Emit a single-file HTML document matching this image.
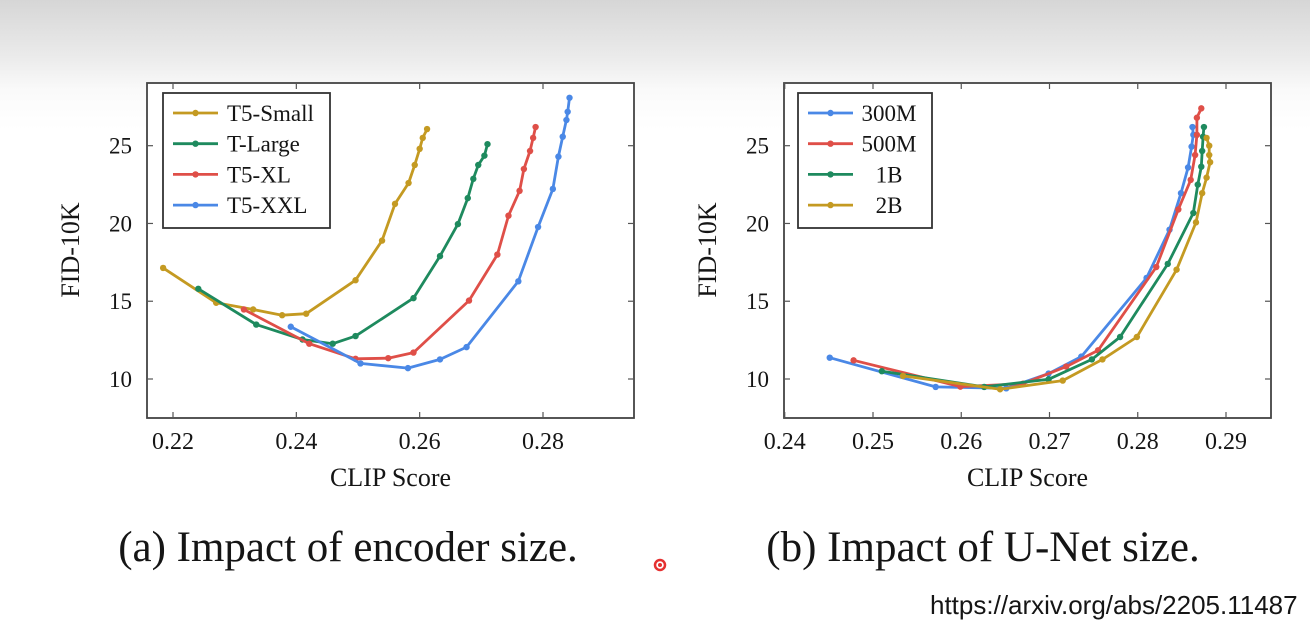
<!DOCTYPE html>
<html><head><meta charset="utf-8">
<style>
html,body{margin:0;padding:0;}
body{width:1310px;height:630px;overflow:hidden;background:linear-gradient(#d6d6d6 0px,#ececec 60px,#fafafa 90px,#ffffff 130px,#ffffff 630px);position:relative;font-family:"Liberation Serif",serif;}
svg{position:absolute;left:0;top:0;}
</style></head>
<body>
<svg id="svg" width="1310" height="630"></svg>
<script>
// ---- Chart (a) data ----
const aSeriesNames = ["T5-Small","T-Large","T5-XL","T5-XXL"];
const aSmallX = [0.2184,0.2270,0.2330,0.2377,0.2416,0.2496,0.2539,0.2560,0.2582,0.2592,0.2600,0.2605,0.2612];
const aSmallY = [17.14,14.9,14.47,14.1,14.2,16.35,18.9,21.26,22.6,23.76,24.8,25.5,26.07];
const aLargeX = [0.2241,0.2335,0.2410,0.2459,0.2496,0.2590,0.2633,0.2662,0.2678,0.2687,0.2695,0.2705,0.2710];
const aLargeY = [15.8,13.5,12.54,12.27,12.76,15.2,17.9,19.96,21.63,22.87,23.76,24.36,25.1];
const aXLX = [0.2315,0.2421,0.2496,0.2549,0.2590,0.2680,0.2726,0.2744,0.2762,0.2769,0.2779,0.2784,0.2788];
const aXLY = [14.47,12.27,11.3,11.34,11.7,15.04,18.0,20.5,22.1,23.5,24.66,25.5,26.2];
const aXXLX = [0.2391,0.2504,0.2581,0.2633,0.2676,0.2760,0.2792,0.2816,0.2825,0.2832,0.2838,0.2840,0.2843];
const aXXLY = [13.36,11.0,10.7,11.26,12.05,16.28,19.77,22.22,24.3,25.58,26.65,27.18,28.08];
const aXTicks = [0.22,0.24,0.26,0.28];
const aXTickLabels = ["0.22","0.24","0.26","0.28"];
const yTicks = [10,15,20,25];
const yTickLabels = ["10","15","20","25"];
// ---- Chart (b) data ----
const bSeriesNames = ["300M","500M","1B","2B"];
const b300X = [0.2451,0.2571,0.2651,0.2699,0.2736,0.2810,0.2836,0.2849,0.2857,0.2861,0.2863,0.2862];
const b300Y = [11.37,9.49,9.4,10.35,11.44,16.5,19.6,21.95,23.6,24.94,25.7,26.2];
const b500X = [0.2478,0.2599,0.2670,0.2719,0.2755,0.2821,0.2846,0.2860,0.2865,0.2867,0.2867,0.2872];
const b500Y = [11.2,9.51,9.7,10.8,11.84,17.2,20.9,22.8,24.4,25.7,26.8,27.4];
const b1BX = [0.2510,0.2626,0.2699,0.2748,0.2780,0.2834,0.2863,0.2868,0.2872,0.2873,0.2874,0.2875];
const b1BY = [10.5,9.49,9.98,11.26,12.7,17.4,20.67,22.5,23.65,24.66,25.58,26.2];
const b2BX = [0.2534,0.2644,0.2715,0.2760,0.2799,0.2844,0.2866,0.2873,0.2878,0.2882,0.2881,0.2881,0.2878];
const b2BY = [10.2,9.34,9.9,11.26,12.7,17.03,20.07,21.95,22.95,23.94,24.4,25.0,25.5];
const bXTicks = [0.24,0.25,0.26,0.27,0.28,0.29];
const bXTickLabels = ["0.24","0.25","0.26","0.27","0.28","0.29"];

const GOLD="#c49a22", GREEN="#1e8a5e", RED="#df4f48", BLUE="#4a88e6";
const INK="#151515";
const NS="http://www.w3.org/2000/svg";
const svg=document.getElementById('svg');
function mk(tag,attrs,parent){const e=document.createElementNS(NS,tag);for(const k in attrs)e.setAttribute(k,attrs[k]);(parent||svg).appendChild(e);return e;}

function chart(cfg){
  const g=mk('g',{});
  
  
  const L=cfg.left,R=cfg.right,T=83,B=418;
  const sx=v=>cfg.x0px+(v-cfg.x0)/(cfg.x1-cfg.x0)*(cfg.x1px-cfg.x0px);
  const sy=v=>379-(v-10)/15*(379-145.7);
  const fr=mk('rect',{x:L,y:T,width:R-L,height:B-T,fill:'#fff',stroke:'#444','stroke-width':1.8},g);
  
  
  cfg.xt.forEach((v,i)=>{
    const x=sx(v);
    mk('line',{x1:x,y1:B,x2:x,y2:B-6,stroke:'#555','stroke-width':1.2},g);
    mk('line',{x1:x,y1:T,x2:x,y2:T+6,stroke:'#555','stroke-width':1.2},g);
    const t=mk('text',{x:x,y:449,'text-anchor':'middle','font-size':24,fill:INK},g);
    t.textContent=cfg.xl[i];
    
    
  });
  yTicks.forEach((v,i)=>{
    const y=sy(v);
    mk('line',{x1:L,y1:y,x2:L+6,y2:y,stroke:'#555','stroke-width':1.2},g);
    mk('line',{x1:R,y1:y,x2:R-6,y2:y,stroke:'#555','stroke-width':1.2},g);
    const t=mk('text',{x:L-15,y:y+8,'text-anchor':'end','font-size':23,fill:INK},g);
    t.textContent=yTickLabels[i];
    
    
  });
  const xt=mk('text',{x:(L+R)/2,y:486,'text-anchor':'middle','font-size':26,fill:INK},g);
  xt.textContent='CLIP Score';
  
  
  const yt=mk('text',{x:0,y:0,'text-anchor':'middle','font-size':26,fill:INK,transform:`translate(${L-68},250) rotate(-90)`},g);
  yt.textContent='FID-10K';
  
  
  cfg.series.forEach(s=>{
    const pts=s.x.map((v,i)=>sx(v).toFixed(1)+','+sy(s.y[i]).toFixed(1)).join(' ');
    const pl=mk('polyline',{points:pts,fill:'none',stroke:s.c,'stroke-width':2.8,'stroke-linejoin':'round'},g);
    
    
    s.x.forEach((v,i)=>{
      const c=mk('circle',{cx:sx(v),cy:sy(s.y[i]),r:3.2,fill:s.c},g);
      
      
    });
  });
  const lg=mk('g',{},g);
  
  
  mk('rect',{x:cfg.lx,y:93,width:cfg.lw,height:135,fill:'#fff',stroke:'#333','stroke-width':1.8},lg);
  cfg.series.forEach((s,i)=>{
    const y=113+i*30.7;
    const e=mk('g',{},lg);
    
    
    mk('line',{x1:cfg.lx+10,y1:y,x2:cfg.lx+55,y2:y,stroke:s.c,'stroke-width':2.8},e);
    mk('circle',{cx:cfg.lx+32.5,cy:y,r:3.2,fill:s.c},e);
    const t=mk('text',{x:cfg.ltx,y:y+8,'text-anchor':cfg.lta,'font-size':23,fill:INK},e);
    t.textContent=s.n;
  });
}
chart({name:'chart-encoder-size',left:147,right:634,x0:0.22,x1:0.28,x0px:173,x1px:543,xt:aXTicks,xl:aXTickLabels,lx:163,lw:167,ltx:227,lta:'start',
  series:[{n:aSeriesNames[0],x:aSmallX,y:aSmallY,c:GOLD},{n:aSeriesNames[1],x:aLargeX,y:aLargeY,c:GREEN},{n:aSeriesNames[2],x:aXLX,y:aXLY,c:RED},{n:aSeriesNames[3],x:aXXLX,y:aXXLY,c:BLUE}]});
chart({name:'chart-unet-size',left:784,right:1271,x0:0.25,x1:0.29,x0px:873,x1px:1226,xt:bXTicks,xl:bXTickLabels,lx:798,lw:134,ltx:889,lta:'middle',
  series:[{n:bSeriesNames[0],x:b300X,y:b300Y,c:BLUE},{n:bSeriesNames[1],x:b500X,y:b500Y,c:RED},{n:bSeriesNames[2],x:b1BX,y:b1BY,c:GREEN},{n:bSeriesNames[3],x:b2BX,y:b2BY,c:GOLD}]});

function txt(x,y,s,size,name,anchor,fam){const t=mk('text',{x:x,y:y,'font-size':size,fill:INK,'text-anchor':anchor||'start','font-family':fam||'Liberation Serif, serif'});t.textContent=s;return t;}
txt(348,561,'(a) Impact of encoder size.',43,'caption-a','middle');
txt(983,561,'(b) Impact of U-Net size.',43,'caption-b','middle');
txt(930,614,'https://arxiv.org/abs/2205.11487',26,'source-url','start','Liberation Sans, sans-serif');
const d=mk('circle',{cx:660,cy:565,r:5,fill:'none',stroke:'#e53030','stroke-width':2.5});


mk('circle',{cx:660,cy:565,r:2,fill:'#e53030'});
</script>
</body></html>
